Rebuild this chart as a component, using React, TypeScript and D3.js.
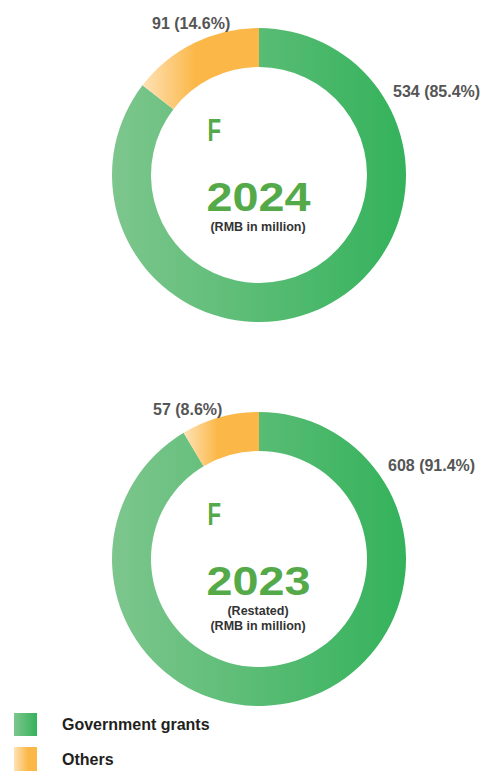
import React from 'react';
import * as d3 from 'd3';

const categories = ['Government grants', 'Others'];
const years = ['2024', '2023'];
const values2024 = [534, 91];
const values2023 = [608, 57];
const subtitles2024 = ['(RMB in million)'];
const subtitles2023 = ['(Restated)', '(RMB in million)'];

const W = 484;
const H = 771;

const panels = [
  { year: years[0], values: values2024, subs: subtitles2024, cy: 175, govLbl: [134, -84], othLbl: [-107, -152] },
  { year: years[1], values: values2023, subs: subtitles2023, cy: 559, govLbl: [129, -94], othLbl: [-106, -150] },
];

const fills = ['url(#gGreen)', 'url(#gOrange)'];

export default function App() {
  const cx = 259;
  const outerR = 147;
  const innerR = 108;
  const pie = d3.pie<number>().sort(null).value(d => d);
  const arc = d3.arc<d3.PieArcDatum<number>>().innerRadius(innerR).outerRadius(outerR);
  const fmt = d3.format('.1%');

  return (
    <svg width={W} height={H} style={{ position: 'absolute', left: 0, top: 0, fontFamily: '"Liberation Sans", Arial, sans-serif' }}>
      <defs>
        <linearGradient id="gGreen" x1="0" x2="1" y1="0" y2="0">
          <stop offset="0" stopColor="#7dc68d" />
          <stop offset="1" stopColor="#34b25b" />
        </linearGradient>
        <linearGradient id="gOrange" x1="0" x2="1" y1="0" y2="0">
          <stop offset="0" stopColor="#fee2b6" />
          <stop offset="0.45" stopColor="#fbb849" />
          <stop offset="1" stopColor="#fbb849" />
        </linearGradient>
        <linearGradient id="lOrange" x1="0" x2="1" y1="0" y2="0">
          <stop offset="0" stopColor="#fee2b6" />
          <stop offset="0.6" stopColor="#fbb849" />
        </linearGradient>
      </defs>
      {panels.map(p => {
        const total = d3.sum(p.values);
        const arcs = pie(p.values);
        const govText = `${p.values[0]} (${fmt(p.values[0] / total)})`;
        const othText = `${p.values[1]} (${fmt(p.values[1] / total)})`;
        return (
          <g key={p.year} transform={`translate(${cx},${p.cy})`}>
            {arcs.map((a, i) => (
              <path key={i} d={arc(a) || ''} fill={fills[i]} />
            ))}
            <text x={p.govLbl[0]} y={p.govLbl[1] + 6} fontSize={16} fontWeight="bold" fill="#555">
              {govText}
            </text>
            <text x={p.othLbl[0]} y={p.othLbl[1] + 6} fontSize={16} fontWeight="bold" fill="#555">
              {othText}
            </text>
            <text x={-51.5} y={-34.5} fontSize={31} fontWeight="bold" fill="#54a948" textLength={13.5} lengthAdjust="spacingAndGlyphs">F</text>
            <text x={-52.5} y={36} fontSize={41} fontWeight="bold" fill="#54a948" textLength={104} lengthAdjust="spacingAndGlyphs">{p.year}</text>
            {p.subs.map((s, i) => (
              <text key={i} x={-1} y={55.5 + i * 15} textAnchor="middle" fontSize={12.5} fontWeight="bold" fill="#333">{s}</text>
            ))}
          </g>
        );
      })}
      <g>
        <rect x={14} y={713} width={23} height={23} fill="url(#gGreen)" />
        <text x={62} y={730} fontSize={16} fontWeight="bold" fill="#231f20">{categories[0]}</text>
        <rect x={14} y={747} width={23} height={24} fill="url(#lOrange)" />
        <text x={62} y={765} fontSize={16} fontWeight="bold" fill="#231f20">{categories[1]}</text>
      </g>
    </svg>
  );
}
